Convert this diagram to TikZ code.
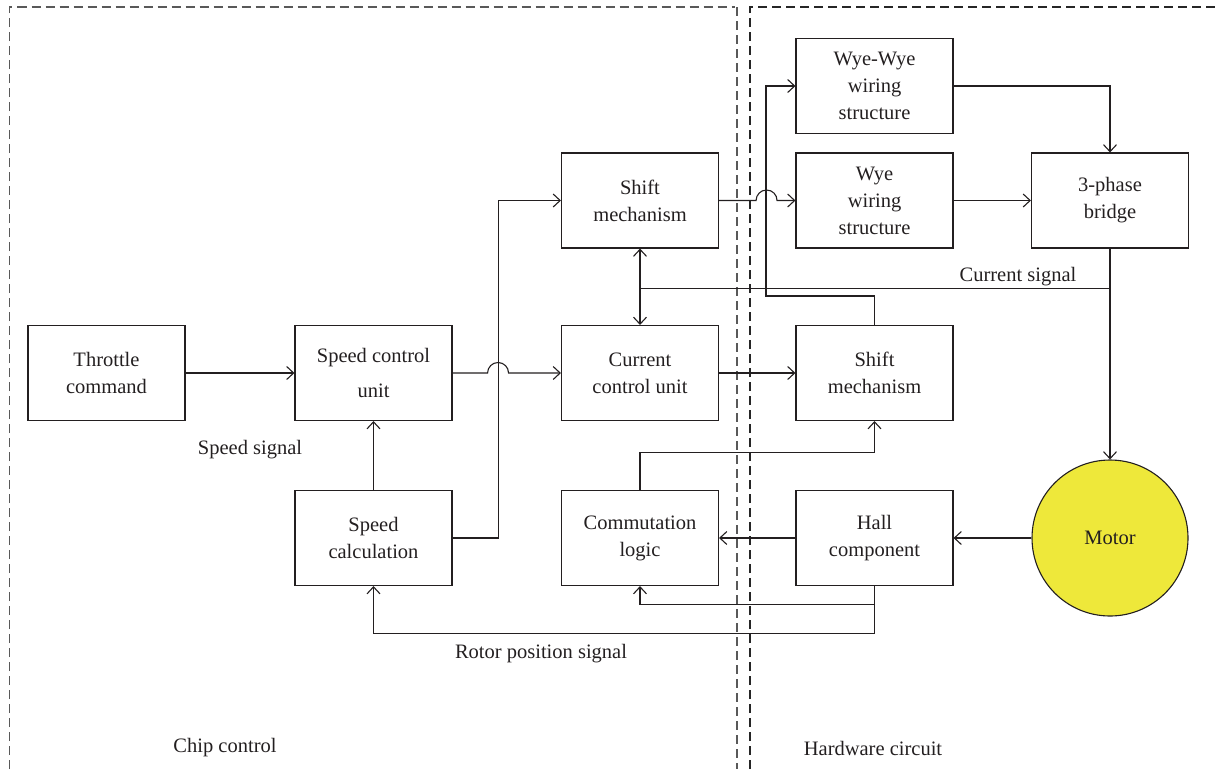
\documentclass[tikz,border=0pt]{standalone}
\usepackage{fontspec}
\setmainfont{Liberation Serif}
\usetikzlibrary{arrows.meta}
\definecolor{motoryellow}{HTML}{EEE83A}
\definecolor{ink}{HTML}{231F20}
\tikzset{
  blk/.style={draw=ink, line width=1.1pt, minimum width=157pt, minimum height=95pt, inner sep=0pt, align=center, text=ink, font=\fontsize{20.5}{27}\selectfont},
  wire/.style={draw=ink, line width=1.1pt},
  arr/.style={wire, -{Straight Barb[length=7pt,width=13pt,line width=1.1pt]}},
  arrb/.style={wire, {Straight Barb[length=7pt,width=13pt,line width=1.1pt]}-{Straight Barb[length=7pt,width=13pt,line width=1.1pt]}},
  lbl/.style={text=ink, font=\fontsize{20.5}{24}\selectfont, inner sep=0pt},
  frame/.style={line width=1.1pt, dash pattern=on 9pt off 5pt},
}
\begin{document}
\begin{tikzpicture}[x=1pt,y=-1pt]
\useasboundingbox (0,0) rectangle (1217,769);
% dashed frames
\draw[frame, draw=black!65] (9.5,769) -- (9.5,7) -- (735,7);
\draw[frame, draw=black!65] (737,7) -- (737,769);
\draw[frame, draw=black!85] (750,769) -- (750,7) -- (1217,7);
% blocks
\node[blk] (thr) at (106.5,373) {Throttle\\command};
\node[blk] (scu) at (373.5,373) {Speed control\\[8pt]unit};
\node[blk] (scalc) at (373.5,538) {Speed\\calculation};
\node[blk] (shiftA) at (640,200.5) {Shift\\mechanism};
\node[blk] (ccu) at (640,373) {Current\\control unit};
\node[blk] (comm) at (640,538) {Commutation\\logic};
\node[blk] (wyewye) at (874.5,86) {Wye-Wye\\wiring\\structure};
\node[blk] (wye) at (874.5,200.5) {Wye\\wiring\\structure};
\node[blk] (bridge) at (1110,200.5) {3-phase\\bridge};
\node[blk] (shiftB) at (874.5,373) {Shift\\mechanism};
\node[blk] (hall) at (874.5,538) {Hall\\component};
\node[circle, draw=ink, line width=1.1pt, fill=motoryellow, minimum size=156pt, inner sep=0pt, text=ink, font=\fontsize{20.5}{24}\selectfont] (motor) at (1110,538) {Motor};
% coordinates
\coordinate (cs) at (1110,288.5);
\coordinate (jx) at (766,296);
% connectors
\draw[arr] (thr) -- (scu);
\draw[arr] (scu.east) -- ++(35,0) arc[start angle=180,end angle=360,radius=10.5] -- (ccu.west);
\draw[arr] (scalc.east) -- ++(46,0) |- (shiftA.west);
\draw[arr] (scalc) -- (scu);
\draw[arrb] (shiftA) -- (ccu);
\draw[wire] (ccu.north |- cs) -- (cs);
\draw[arr] (bridge) -- (motor);
\draw[arr] (shiftB.north) |- (jx) |- (wyewye.west);
\draw[arr] (shiftA.east) -- ++(37,0) arc[start angle=180,end angle=360,radius=10.5] -- (wye.west);
\draw[arr] (ccu) -- (shiftB);
\draw[arr] (wye) -- (bridge);
\draw[arr] (wyewye.east) -| (bridge.north);
\draw[arr] (motor) -- (hall);
\draw[arr] (hall) -- (comm);
\draw[arr] (comm.north) -- ++(0,-37.5) -| (shiftB.south);
\draw[arr] (hall.south) -- ++(0,18) -| (comm.south);
\draw[arr] (hall.south) -- ++(0,47) -| (scalc.south);
% labels
\node[lbl] (lspeed) at (250,450) {Speed signal};
\node[lbl] (lrotor) at (541,654) {Rotor position signal};
\node[lbl] (lcurr) at (1018,277) {Current signal};
\node[lbl] (lchip) at (225,748) {Chip control};
\node[lbl] (lhw) at (873,748) {Hardware circuit};
\end{tikzpicture}
\end{document}
